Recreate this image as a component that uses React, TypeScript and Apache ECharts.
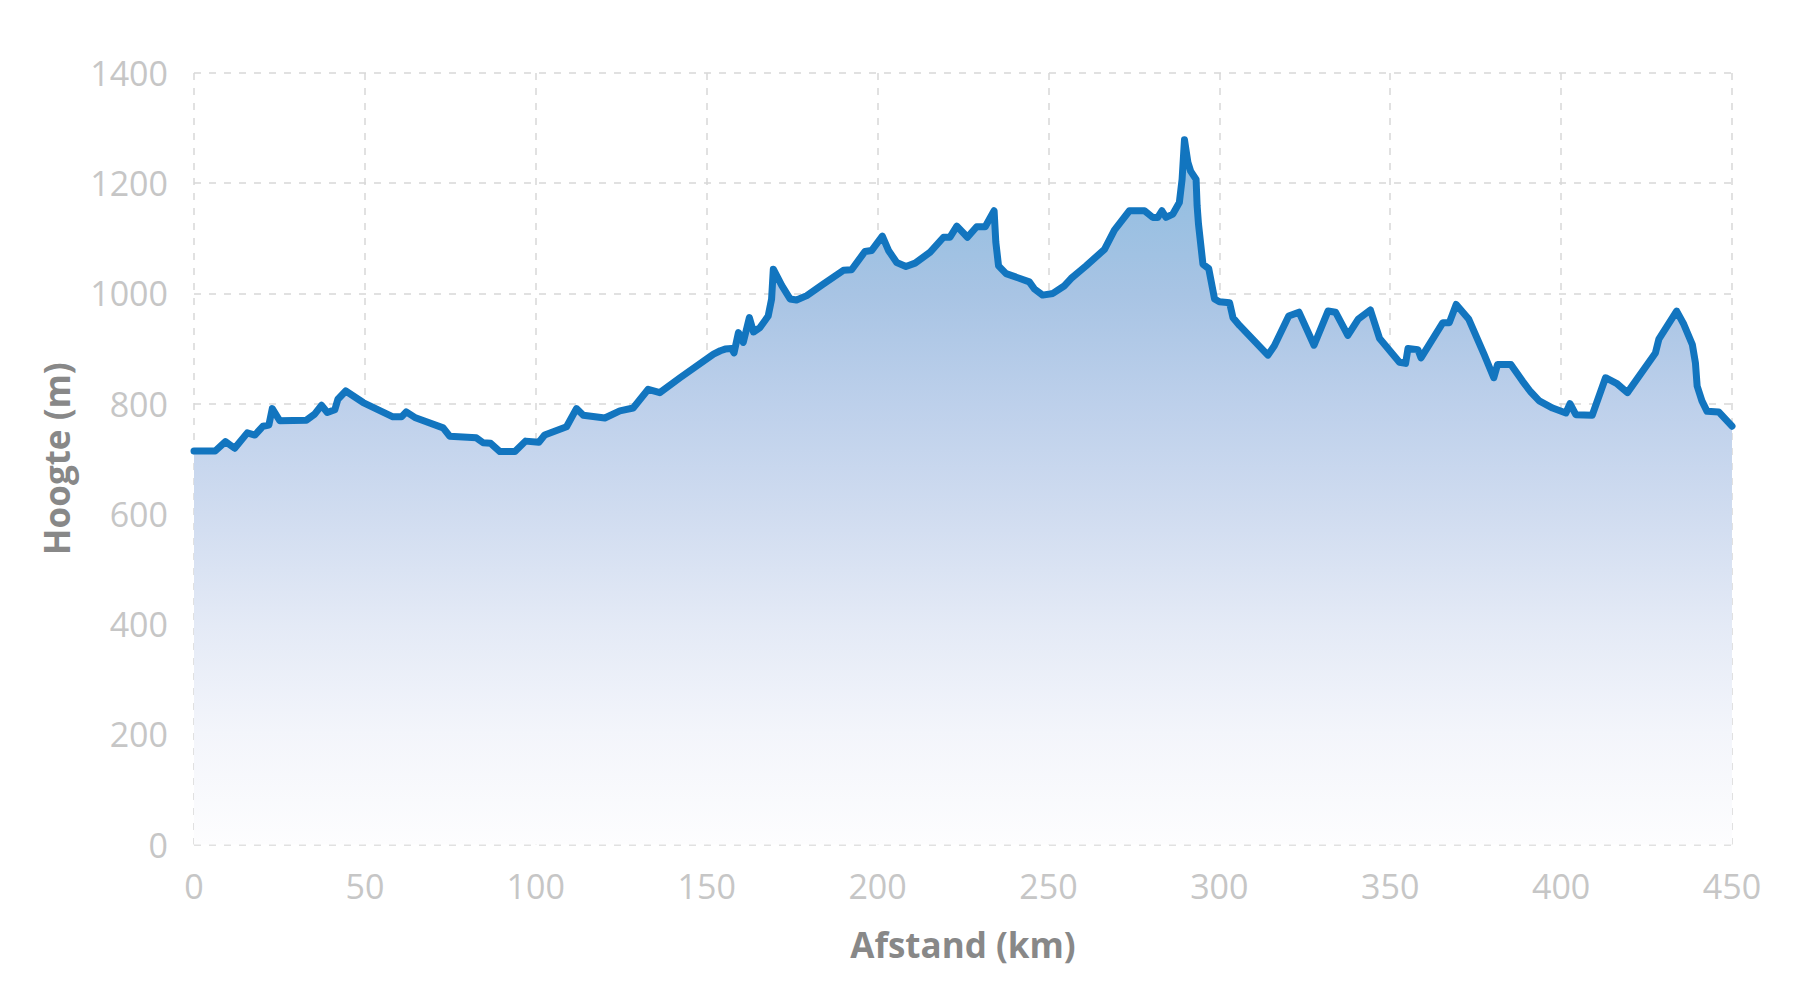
import React, { useEffect, useRef } from 'react'
import * as echarts from 'echarts'

const distanceKm = [
  0, 6.2, 9.2, 11.9, 15.6, 17.8, 20.2, 21.9, 22.9, 25.1, 32.9, 35.3, 37.3, 39.0, 41.2, 42.1, 44.4, 49.5,
  58.2, 60.7, 62.1, 64.6, 72.9, 74.8, 82.6, 84.6, 86.8, 89.5, 93.9, 97.0, 100.9, 102.6, 109.0, 111.9,
  113.9, 120.2, 124.6, 128.5, 132.9, 136.3, 142.2, 152.0, 154.0, 155.4, 157.3, 158.0, 159.3, 160.7,
  162.5, 163.7, 165.6, 168.0, 169.0, 169.5, 172.0, 174.4, 176.3, 179.3, 184.1, 190.0, 192.4, 196.3,
  198.3, 201.4, 203.2, 205.6, 208.3, 211.0, 215.4, 219.3, 221.2, 223.2, 226.3, 229.0, 231.5, 234.1,
  234.6, 235.4, 237.6, 244.4, 245.9, 248.3, 251.3, 254.7, 256.6, 261.0, 266.4, 269.3, 273.7, 278.1,
  280.5, 282.0, 283.2, 284.4, 286.4, 288.3, 289.1, 289.8, 290.8, 291.6, 293.2, 293.5, 293.9, 295.2,
  296.9, 298.6, 300.0, 303.0, 304.0, 305.9, 314.2, 316.1, 320.3, 323.3, 327.7, 331.8, 334.0, 337.6,
  340.6, 344.2, 346.9, 352.7, 354.5, 355.2, 358.1, 359.0, 365.4, 367.3, 369.3, 373.0, 377.5, 380.3,
  381.4, 385.3, 388.7, 391.0, 393.6, 397.5, 401.4, 402.6, 404.3, 409.1, 413.0, 416.2, 419.4, 427.6,
  428.6, 433.8, 435.9, 438.4, 439.3, 439.8, 441.2, 442.7, 446.1, 450.0
]

const elevationM = [
  714, 714, 731, 719, 747, 743, 759, 761, 791, 769, 770, 781, 797, 784, 789, 808, 823, 802,
  776, 776, 785, 775, 756, 741, 738, 729, 728, 713, 713, 732, 730, 743, 758, 791,
  779, 774, 787, 792, 826, 820, 847, 890, 896, 899, 900, 892, 929, 911,
  956, 930, 938, 959, 990, 1044, 1014, 990, 988, 996, 1017, 1042, 1043, 1076,
  1078, 1104, 1078, 1056, 1049, 1055, 1075, 1102, 1102, 1122, 1102, 1121, 1121, 1150,
  1093, 1050, 1036, 1021, 1008, 997, 1000, 1014, 1027, 1050, 1080, 1115, 1150, 1150,
  1138, 1138, 1150, 1138, 1144, 1165, 1207, 1279, 1238, 1222, 1207, 1159, 1126, 1053,
  1045, 990, 985, 983, 956, 942, 888, 905, 959, 966, 906, 968, 966, 924,
  953, 970, 918, 875, 873, 900, 898, 883, 947, 947, 980, 953, 889, 847,
  871, 871, 841, 822, 805, 792, 783, 800, 780, 779, 847, 837, 820, 892,
  917, 968, 944, 907, 874, 832, 805, 786, 785, 759
]

const FONT = "'Open Sans', sans-serif"

const App: React.FC = () => {
  const chartRef = useRef<HTMLDivElement>(null)

  useEffect(() => {
    document.body.style.margin = '0'
    if (!chartRef.current) return
    const chart = echarts.init(chartRef.current, null, { renderer: 'svg' })

    const gridLine = {
      show: true,
      lineStyle: { color: '#d8d8d8', width: 1.5, type: [7, 8] as number[] }
    }

    const option: echarts.EChartsOption = {
      animation: false,
      backgroundColor: '#ffffff',
      grid: { left: 194, right: 68, top: 73, bottom: 155.5, containLabel: false },
      xAxis: {
        type: 'value',
        min: 0,
        max: 450,
        interval: 50,
        name: 'Afstand (km)',
        nameLocation: 'middle',
        nameGap: 82,
        nameTextStyle: { color: '#888888', fontSize: 35, fontWeight: 'bold', fontFamily: FONT },
        axisLine: { show: false },
        axisTick: { show: false },
        axisLabel: { color: '#c6c6c6', fontSize: 34, fontFamily: FONT, margin: 24, formatter: (v: number) => String(v) },
        splitLine: gridLine
      },
      yAxis: {
        type: 'value',
        min: 0,
        max: 1400,
        interval: 200,
        name: 'Hoogte (m)',
        nameLocation: 'middle',
        nameGap: 120,
        nameRotate: 90,
        nameTextStyle: { color: '#888888', fontSize: 35, fontWeight: 'bold', fontFamily: FONT },
        axisLine: { show: false },
        axisTick: { show: false },
        axisLabel: { color: '#c6c6c6', fontSize: 34, fontFamily: FONT, margin: 26, formatter: (v: number) => String(v) },
        splitLine: gridLine
      },
      series: [
        {
          type: 'line',
          data: distanceKm.map((d, i) => [d, elevationM[i]]),
          symbol: 'none',
          smooth: false,
          lineStyle: { color: '#1275bf', width: 7, cap: 'round', join: 'round' },
          areaStyle: {
            opacity: 1,
            color: new echarts.graphic.LinearGradient(0, 0, 0, 1, [
              { offset: 0, color: '#8cbce0' },
              { offset: 0.22, color: '#a8c4e4' },
              { offset: 0.375, color: '#bdd0eb' },
              { offset: 0.53, color: '#d0dcf0' },
              { offset: 0.69, color: '#e4eaf6' },
              { offset: 0.84, color: '#f3f5fb' },
              { offset: 1, color: '#fdfdfe' }
            ])
          }
        }
      ]
    }

    chart.setOption(option)
    return () => chart.dispose()
  }, [])

  return <div ref={chartRef} style={{ width: '1800px', height: '1000px' }} />
}

export default App
